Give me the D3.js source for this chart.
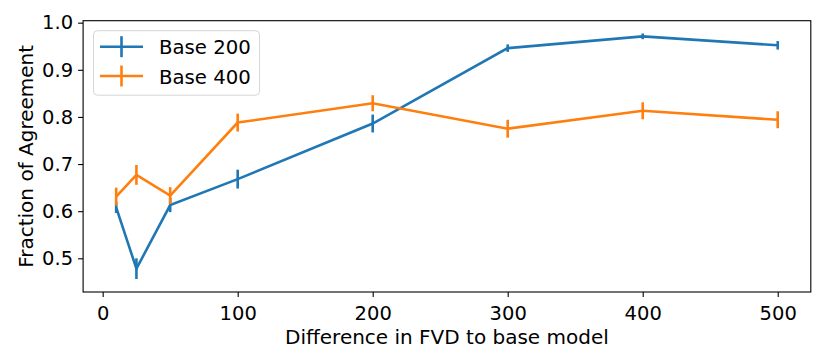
<!DOCTYPE html>
<html>
<head>
<meta charset="utf-8">
<script src="https://cdn.jsdelivr.net/npm/d3@7"></script>
<style>
  body { margin: 0; background: #fff; }
  svg text { font-family: "DejaVu Sans", sans-serif; fill: #000; }
</style>
</head>
<body>
<div id="chart"></div>
<script>
'use strict';
// values
var fvdDiff = [10, 25, 50, 100, 200, 300, 400, 500];
var base200 = [0.608, 0.478, 0.613, 0.668, 0.786, 0.946, 0.971, 0.952];
var base200Err = [0.012, 0.022, 0.015, 0.020, 0.019, 0.008, 0.006, 0.009];
var base400 = [0.631, 0.677, 0.633, 0.788, 0.829, 0.775, 0.813, 0.794];
var base400Err = [0.019, 0.021, 0.018, 0.019, 0.017, 0.019, 0.018, 0.018];
var xTicks = [0, 100, 200, 300, 400, 500];
var yTicks = [0.5, 0.6, 0.7, 0.8, 0.9, 1.0];
var seriesNames = ['Base 200', 'Base 400'];
var seriesColors = ['#1f77b4', '#ff7f0e'];

var width = 830, height = 363;
var margin = { top: 20.7, right: 19.2, bottom: 71, left: 83.1 };

var svg = d3.select('#chart').append('svg')
    .attr('width', width)
    .attr('height', height);

var x = d3.scaleLinear()
    .domain([-14.5, 524.5])
    .range([margin.left, width - margin.right]);
var y = d3.scaleLinear()
    .domain([0.4285, 1.0042])
    .range([height - margin.bottom, margin.top]);

var series = [
    { name: seriesNames[0], color: seriesColors[0], vals: base200, errs: base200Err },
    { name: seriesNames[1], color: seriesColors[1], vals: base400, errs: base400Err }
];

var line = d3.line()
    .x(function (d) { return x(d.x); })
    .y(function (d) { return y(d.y); });

series.forEach(function (s) {
    var pts = fvdDiff.map(function (v, i) { return { x: v, y: s.vals[i], e: s.errs[i] }; });
    var g = svg.append('g');
    g.append('path')
        .datum(pts)
        .attr('fill', 'none')
        .attr('stroke', s.color)
        .attr('stroke-width', 2.6)
        .attr('d', line);
    g.selectAll('.err')
        .data(pts)
        .enter().append('line')
        .attr('class', 'err')
        .attr('x1', function (d) { return x(d.x); })
        .attr('x2', function (d) { return x(d.x); })
        .attr('y1', function (d) { return y(d.y - d.e); })
        .attr('y2', function (d) { return y(d.y + d.e); })
        .attr('stroke', s.color)
        .attr('stroke-width', 2.6);
});

// axes
var xAxis = svg.append('g')
    .attr('transform', 'translate(0,' + (height - margin.bottom) + ')')
    .call(d3.axisBottom(x).tickValues(xTicks).tickSize(5).tickPadding(5).tickFormat(d3.format('d')));
var yAxis = svg.append('g')
    .attr('transform', 'translate(' + margin.left + ',0)')
    .call(d3.axisLeft(y).tickValues(yTicks).tickSize(5).tickPadding(5).tickFormat(d3.format('.1f')));
[xAxis, yAxis].forEach(function (a) {
    a.select('.domain').remove();
    a.selectAll('line').attr('stroke', '#000').attr('stroke-width', 1.1);
    a.selectAll('text').style('font-size', '19.5px').attr('fill', '#000');
});
xAxis.selectAll('text').attr('dy', '0.93em');

// frame
svg.append('rect')
    .attr('x', margin.left)
    .attr('y', margin.top)
    .attr('width', width - margin.right - margin.left)
    .attr('height', height - margin.bottom - margin.top)
    .attr('fill', 'none')
    .attr('stroke', '#000')
    .attr('stroke-width', 1.1);

// labels
svg.append('text')
    .attr('x', (margin.left + width - margin.right) / 2)
    .attr('y', 344)
    .attr('text-anchor', 'middle')
    .style('font-size', '20px')
    .text('Difference in FVD to base model');
svg.append('text')
    .attr('transform', 'translate(32.5,' + ((margin.top + height - margin.bottom) / 2) + ') rotate(-90)')
    .attr('text-anchor', 'middle')
    .style('font-size', '20px')
    .text('Fraction of Agreement');

// legend
var legend = svg.append('g');
legend.append('rect')
    .attr('x', 93.5).attr('y', 30.7)
    .attr('width', 166).attr('height', 64.5)
    .attr('rx', 4)
    .attr('fill', '#fff').attr('fill-opacity', 0.8)
    .attr('stroke', '#d6d6d6').attr('stroke-width', 1);
series.forEach(function (s, i) {
    var cy = 46.7 + i * 29.3;
    legend.append('line')
        .attr('x1', 100).attr('x2', 143)
        .attr('y1', cy).attr('y2', cy)
        .attr('stroke', s.color).attr('stroke-width', 2.6);
    legend.append('line')
        .attr('x1', 121.5).attr('x2', 121.5)
        .attr('y1', cy - 10.5).attr('y2', cy + 10.5)
        .attr('stroke', s.color).attr('stroke-width', 2.6);
    legend.append('text')
        .attr('x', 159).attr('y', cy + 7.5)
        .style('font-size', '19.7px')
        .text(s.name);
});
</script>
</body>
</html>
